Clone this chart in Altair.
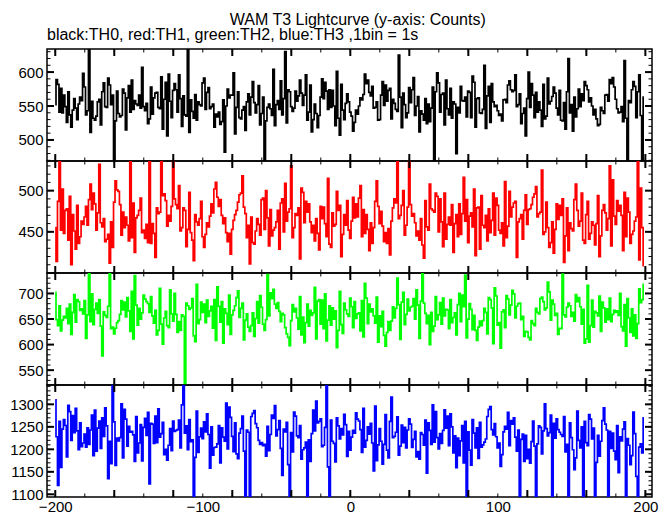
import math
import altair as alt
import pandas as pd

TITLE = "WAM T3 Lightcurve (y-axis: Counts)"
SUBTITLE = "black:TH0, red:TH1, green:TH2, blue:TH3 ,1bin = 1s"

bin_start = -200  # first 1 s bin; one value per second

th0 = [
    552, 589, 582, 541, 576, 540, 566, 549, 526, 571, 537, 519, 544, 561, 547, 530, 553, 563, 558, 598,
    578, 537, 543, 640, 511, 557, 532, 529, 535, 556, 560, 522, 571, 584, 549, 548, 591, 581, 552, 566,
    468, 528, 572, 539, 534, 536, 575, 569, 515, 562, 580, 541, 588, 545, 558, 553, 551, 566, 547, 607,
    549, 543, 554, 524, 531, 578, 538, 562, 569, 570, 548, 546, 593, 516, 560, 585, 506, 597, 557, 533,
    573, 583, 574, 541, 596, 561, 520, 565, 537, 535, 636, 511, 559, 542, 532, 567, 529, 556, 552, 550,
    584, 591, 545, 570, 577, 546, 549, 553, 519, 538, 534, 541, 523, 527, 559, 482, 550, 575, 562, 566,
    566, 599, 509, 548, 571, 533, 531, 544, 549, 514, 556, 568, 537, 563, 586, 555, 540, 552, 580, 522,
    539, 563, 470, 528, 548, 553, 546, 536, 604, 521, 552, 558, 545, 587, 537, 561, 630, 525, 574, 571,
    549, 542, 547, 572, 557, 565, 588, 569, 551, 566, 596, 529, 541, 581, 512, 530, 553, 539, 518, 536,
    563, 590, 561, 585, 572, 545, 574, 548, 573, 550, 521, 601, 532, 507, 582, 544, 530, 554, 568, 556,
    541, 535, 513, 526, 544, 538, 550, 562, 559, 567, 597, 583, 588, 570, 565, 579, 547, 548, 556, 529,
    530, 566, 586, 551, 581, 557, 573, 576, 531, 560, 554, 545, 542, 625, 563, 518, 569, 552, 533, 540,
    577, 555, 574, 592, 536, 550, 564, 512, 543, 538, 529, 561, 524, 553, 527, 547, 578, 468, 571, 599,
    584, 541, 567, 569, 522, 588, 546, 537, 576, 532, 556, 553, 480, 548, 540, 579, 558, 557, 563, 534,
    572, 570, 533, 594, 585, 519, 561, 562, 540, 539, 545, 610, 517, 565, 579, 526, 583, 556, 549, 551,
    543, 536, 538, 528, 559, 560, 555, 581, 587, 574, 571, 573, 596, 549, 552, 568, 524, 539, 547, 506,
    561, 600, 548, 583, 566, 533, 570, 541, 556, 544, 520, 582, 531, 535, 591, 553, 557, 564, 578, 569,
    547, 537, 573, 529, 528, 555, 516, 571, 620, 540, 552, 513, 563, 534, 546, 575, 549, 568, 558, 586,
    580, 574, 556, 562, 550, 537, 545, 531, 521, 523, 548, 543, 539, 566, 567, 557, 589, 583, 592, 578,
    560, 546, 540, 541, 549, 527, 617, 532, 470, 558, 555, 574, 586, 579, 533, 571, 596, 536, 468, 563,
]

th1 = [
    455, 414, 487, 545, 452, 502, 448, 476, 478, 440, 493, 410, 471, 451, 429, 482, 436, 444, 463, 459,
    468, 481, 458, 489, 508, 477, 497, 484, 452, 473, 532, 461, 456, 466, 438, 441, 447, 412, 462, 431,
    486, 512, 501, 499, 483, 446, 474, 455, 468, 458, 439, 541, 443, 485, 425, 467, 470, 476, 491, 449,
    452, 442, 459, 437, 539, 436, 460, 448, 419, 479, 472, 474, 538, 494, 496, 488, 457, 470, 463, 481,
    540, 490, 483, 478, 506, 451, 455, 479, 476, 432, 453, 498, 449, 440, 415, 471, 462, 458, 466, 487,
    444, 431, 447, 461, 456, 469, 484, 473, 502, 510, 492, 481, 489, 470, 460, 467, 449, 438, 448, 423,
    453, 464, 471, 476, 486, 495, 497, 518, 480, 472, 443, 458, 411, 468, 437, 435, 451, 466, 459, 446,
    489, 491, 453, 500, 467, 433, 477, 445, 452, 455, 462, 476, 429, 485, 490, 450, 509, 463, 474, 478,
    530, 443, 455, 472, 470, 479, 417, 503, 498, 461, 487, 474, 484, 462, 449, 458, 439, 466, 448, 428,
    481, 466, 480, 460, 444, 515, 435, 431, 473, 457, 459, 499, 476, 482, 420, 447, 471, 458, 488, 452,
    442, 463, 492, 467, 484, 468, 491, 506, 444, 477, 448, 471, 453, 427, 461, 436, 455, 487, 512, 481,
    460, 475, 457, 438, 449, 436, 454, 422, 463, 479, 490, 485, 543, 466, 470, 482, 500, 446, 458, 480,
    537, 483, 469, 472, 461, 445, 451, 440, 466, 434, 418, 488, 456, 452, 508, 478, 476, 474, 497, 493,
    450, 490, 462, 432, 497, 441, 459, 468, 458, 483, 425, 460, 471, 444, 484, 447, 472, 516, 463, 489,
    437, 469, 473, 456, 502, 421, 479, 480, 429, 494, 458, 455, 470, 439, 478, 449, 464, 497, 446, 491,
    482, 452, 448, 461, 433, 511, 443, 457, 499, 468, 480, 485, 487, 419, 462, 466, 471, 441, 476, 495,
    459, 477, 478, 483, 492, 496, 505, 468, 472, 474, 525, 447, 450, 486, 455, 431, 437, 462, 424, 453,
    484, 465, 482, 470, 490, 413, 445, 479, 427, 461, 454, 451, 489, 508, 476, 457, 463, 497, 440, 436,
    471, 487, 441, 448, 462, 458, 434, 460, 494, 420, 445, 476, 483, 473, 452, 466, 530, 433, 513, 469,
    459, 488, 475, 482, 470, 427, 498, 444, 491, 474, 436, 447, 451, 463, 468, 544, 416, 503, 455, 409,
]

th2 = [
    702, 649, 637, 676, 627, 648, 655, 652, 671, 641, 679, 620, 663, 698, 644, 688, 684, 667, 670, 660,
    686, 612, 658, 745, 645, 699, 639, 669, 681, 661, 688, 636, 578, 664, 657, 653, 675, 742, 631, 634,
    621, 632, 643, 647, 659, 686, 668, 683, 654, 692, 666, 626, 704, 611, 735, 677, 638, 671, 650, 662,
    697, 689, 684, 680, 663, 694, 656, 642, 667, 619, 628, 710, 640, 601, 652, 665, 637, 633, 707, 660,
    646, 700, 659, 624, 645, 628, 658, 655, 515, 681, 676, 669, 672, 690, 617, 606, 718, 641, 649, 683,
    663, 679, 643, 687, 655, 666, 675, 632, 688, 608, 713, 675, 644, 684, 603, 670, 661, 639, 697, 620,
    658, 667, 676, 692, 705, 653, 671, 681, 609, 648, 660, 634, 626, 637, 662, 616, 651, 684, 642, 696,
    673, 640, 628, 649, 737, 656, 701, 690, 708, 679, 671, 682, 665, 645, 661, 658, 633, 621, 614, 598,
    647, 678, 664, 671, 652, 630, 694, 619, 654, 604, 643, 679, 636, 667, 657, 662, 712, 611, 685, 688,
    640, 687, 631, 699, 607, 648, 676, 638, 672, 650, 666, 594, 628, 704, 639, 622, 681, 668, 660, 655,
    691, 674, 633, 684, 651, 660, 662, 627, 686, 615, 720, 691, 641, 679, 664, 670, 656, 642, 693, 605,
    656, 635, 665, 618, 597, 624, 645, 628, 646, 674, 652, 671, 730, 678, 610, 683, 702, 639, 659, 689,
    666, 673, 675, 690, 650, 707, 677, 612, 685, 741, 681, 661, 641, 657, 600, 663, 626, 636, 694, 649,
    658, 682, 640, 691, 656, 669, 668, 631, 688, 643, 653, 662, 619, 678, 700, 645, 697, 674, 736, 613,
    650, 680, 669, 629, 657, 628, 608, 634, 646, 637, 647, 671, 663, 621, 692, 688, 672, 602, 711, 695,
    638, 643, 593, 664, 668, 633, 696, 689, 658, 677, 706, 699, 652, 675, 680, 681, 649, 655, 616, 626,
    625, 614, 609, 647, 641, 637, 671, 663, 660, 690, 693, 684, 668, 672, 722, 703, 648, 687, 679, 657,
    661, 620, 632, 631, 738, 658, 654, 673, 681, 676, 655, 663, 646, 698, 684, 692, 674, 640, 669, 603,
    611, 716, 605, 637, 687, 634, 665, 662, 656, 695, 626, 683, 672, 644, 670, 649, 691, 645, 659, 667,
    663, 666, 657, 700, 635, 627, 678, 597, 690, 652, 624, 670, 617, 658, 612, 641, 709, 682, 688, 718,
]

th3 = [
    1310, 1228, 1120, 1262, 1160, 1245, 1266, 1253, 1183, 1298, 1284, 1220, 1275, 1237, 1291, 1241, 1199, 1259, 1206, 1214,
    1234, 1205, 1248, 1211, 1243, 1276, 1186, 1287, 1196, 1247, 1263, 1202, 1270, 1229, 1292, 1252, 1135, 1218, 1168, 1350,
    1261, 1164, 1225, 1219, 1226, 1301, 1181, 1289, 1267, 1207, 1251, 1238, 1240, 1232, 1173, 1273, 1192, 1214, 1255, 1174,
    1249, 1269, 1231, 1282, 1123, 1258, 1256, 1213, 1274, 1215, 1290, 1227, 1235, 1260, 1188, 1200, 1176, 1209, 1246, 1197,
    1263, 1240, 1242, 1244, 1265, 1203, 1299, 1348, 1236, 1252, 1199, 1266, 1217, 1221, 1090, 1182, 1285, 1193, 1228, 1247,
    1224, 1261, 1239, 1279, 1233, 1158, 1250, 1187, 1204, 1205, 1212, 1253, 1170, 1248, 1227, 1218, 1303, 1201, 1294, 1271,
    1229, 1195, 1259, 1190, 1179, 1236, 1246, 1274, 1196, 1092, 1243, 1238, 1090, 1273, 1280, 1286, 1257, 1248, 1220, 1211,
    1215, 1208, 1211, 1185, 1251, 1197, 1233, 1276, 1269, 1297, 1230, 1244, 1264, 1202, 1142, 1245, 1239, 1260, 1166, 1088,
    1237, 1194, 1283, 1274, 1230, 1226, 1253, 1178, 1199, 1203, 1216, 1092, 1221, 1173, 1235, 1287, 1241, 1307, 1259, 1262,
    1268, 1206, 1209, 1249, 1350, 1161, 1090, 1265, 1218, 1213, 1172, 1270, 1252, 1223, 1246, 1232, 1278, 1255, 1184, 1240,
    1198, 1227, 1242, 1236, 1281, 1267, 1263, 1244, 1193, 1291, 1205, 1220, 1250, 1234, 1258, 1214, 1152, 1296, 1175, 1210,
    1246, 1218, 1167, 1211, 1277, 1198, 1181, 1262, 1316, 1226, 1229, 1238, 1272, 1187, 1207, 1254, 1215, 1249, 1203, 1243,
    1268, 1256, 1204, 1222, 1240, 1183, 1195, 1178, 1237, 1233, 1209, 1265, 1147, 1259, 1242, 1211, 1299, 1216, 1284, 1226,
    1201, 1235, 1213, 1242, 1288, 1247, 1274, 1208, 1279, 1250, 1192, 1230, 1159, 1225, 1186, 1219, 1253, 1170, 1262, 1092,
    1239, 1198, 1165, 1266, 1236, 1203, 1248, 1180, 1260, 1205, 1210, 1216, 1223, 1273, 1289, 1295, 1244, 1232, 1257, 1228,
    1203, 1214, 1162, 1188, 1239, 1251, 1245, 1282, 1208, 1264, 1256, 1270, 1227, 1196, 1243, 1088, 1222, 1234, 1173, 1231,
    1179, 1200, 1169, 1217, 1263, 1207, 1093, 1212, 1252, 1249, 1190, 1241, 1301, 1246, 1230, 1237, 1276, 1095, 1258, 1225,
    1268, 1244, 1238, 1233, 1229, 1273, 1194, 1211, 1090, 1259, 1226, 1199, 1155, 1181, 1285, 1220, 1203, 1250, 1088, 1262,
    1215, 1208, 1277, 1267, 1223, 1247, 1092, 1171, 1231, 1185, 1218, 1264, 1292, 1256, 1243, 1089, 1240, 1202, 1236, 1196,
    1177, 1253, 1148, 1228, 1219, 1245, 1261, 1093, 1224, 1209, 1166, 1186, 1283, 1235, 1140, 1090, 1205, 1212, 1192, 1270,
]

series = [th0, th1, th2, th3]
colors = ["#000000", "#ff0000", "#00ff00", "#0000ff"]
x_domain = [-205.6, 204.5]
x_label_values = [-200, -100, 0, 100, 200]
y_domains = [[469, 634], [400, 536], [521, 740], [1094, 1343]]
y_label_values = [
    [500, 550, 600],
    [450, 500],
    [550, 600, 650, 700],
    [1100, 1150, 1200, 1250, 1300],
]

W, H = 605, 112
FONT = "Liberation Sans"
MAJ_LEN, MIN_LEN = 7, 3.5


def tick_values(lo, hi, step):
    vals = []
    v = math.ceil(lo / step) * step
    while v <= hi:
        vals.append(v)
        v += step
    return vals


def panel(values, color, ydom, ylabels, last, title=None):
    df = pd.DataFrame({"t": [bin_start + i for i in range(len(values))], "c": values})
    xs = alt.Scale(domain=x_domain, nice=False, zero=False)
    ys = alt.Scale(domain=ydom, nice=False, zero=False)
    if last:
        xaxis = alt.Axis(values=x_label_values, orient="bottom", title=None, ticks=False,
                         tickSize=0, domain=False, grid=False, labelFont=FONT,
                         labelFontSize=15, labelPadding=2, labelFlush=False,
                         labelColor="black", format="d")
    else:
        xaxis = None
    yaxis = alt.Axis(values=ylabels, orient="left", title=None, ticks=False, tickSize=0,
                     domain=False, grid=False, labelFont=FONT, labelFontSize=15,
                     labelPadding=4, labelColor="black", format="d", labelOverlap=False)
    line = alt.Chart(df).mark_line(color=color, strokeWidth=1.7, interpolate="step",
                                   clip=True).encode(
        x=alt.X("t:Q", scale=xs, axis=xaxis),
        y=alt.Y("c:Q", scale=ys, axis=yaxis),
    )

    def yrule(vals, x0, x1, sw):
        d = pd.DataFrame({"v": vals})
        return alt.Chart(d).mark_rule(color="black", strokeWidth=sw).encode(
            y=alt.Y("v:Q", scale=ys, axis=None), x=alt.value(x0), x2=alt.value(x1))

    def xrule(vals, y0, y1, sw):
        d = pd.DataFrame({"v": vals})
        return alt.Chart(d).mark_rule(color="black", strokeWidth=sw).encode(
            x=alt.X("v:Q", scale=xs, axis=None), y=alt.value(y0), y2=alt.value(y1))

    ymaj = tick_values(ydom[0], ydom[1], 50)
    ymin = tick_values(ydom[0], ydom[1], 10)
    xmaj = tick_values(x_domain[0], x_domain[1], 40)
    xmin = tick_values(x_domain[0], x_domain[1], 20)
    layers = [
        line,
        yrule(ymin, 0, MIN_LEN, 1), yrule(ymin, W - MIN_LEN, W, 1),
        yrule(ymaj, 0, MAJ_LEN, 2), yrule(ymaj, W - MAJ_LEN, W, 2),
        xrule(xmin, 0, MIN_LEN, 1), xrule(xmin, H - MIN_LEN, H, 1),
        xrule(xmaj, 0, MAJ_LEN, 2), xrule(xmaj, H - MAJ_LEN, H, 2),
    ]
    ch = alt.layer(*layers).resolve_axis(x="independent", y="independent")
    if title is not None:
        return ch.properties(width=W, height=H, title=title)
    return ch.properties(width=W, height=H)


panels = []
for k in range(4):
    t = None
    if k == 0:
        t = alt.TitleParams(text=SUBTITLE, anchor="start", frame="group", font=FONT,
                            fontSize=16, fontWeight="normal", color="black",
                            baseline="alphabetic", offset=-8)
    panels.append(panel(series[k], colors[k], y_domains[k], y_label_values[k], k == 3, t))

chart = alt.vconcat(*panels, spacing=0, bounds="flush").properties(
    title=alt.TitleParams(text=TITLE, anchor="middle", font=FONT, fontSize=16,
                          fontWeight="normal", color="black", baseline="alphabetic",
                          offset=-15, dx=24),
    background="white",
    padding={"left": 0, "top": 4, "right": 0, "bottom": 0},
).configure_view(stroke="black", strokeWidth=1.5)

chart.save("out.html", embed_options={"renderer": "svg", "actions": False})
